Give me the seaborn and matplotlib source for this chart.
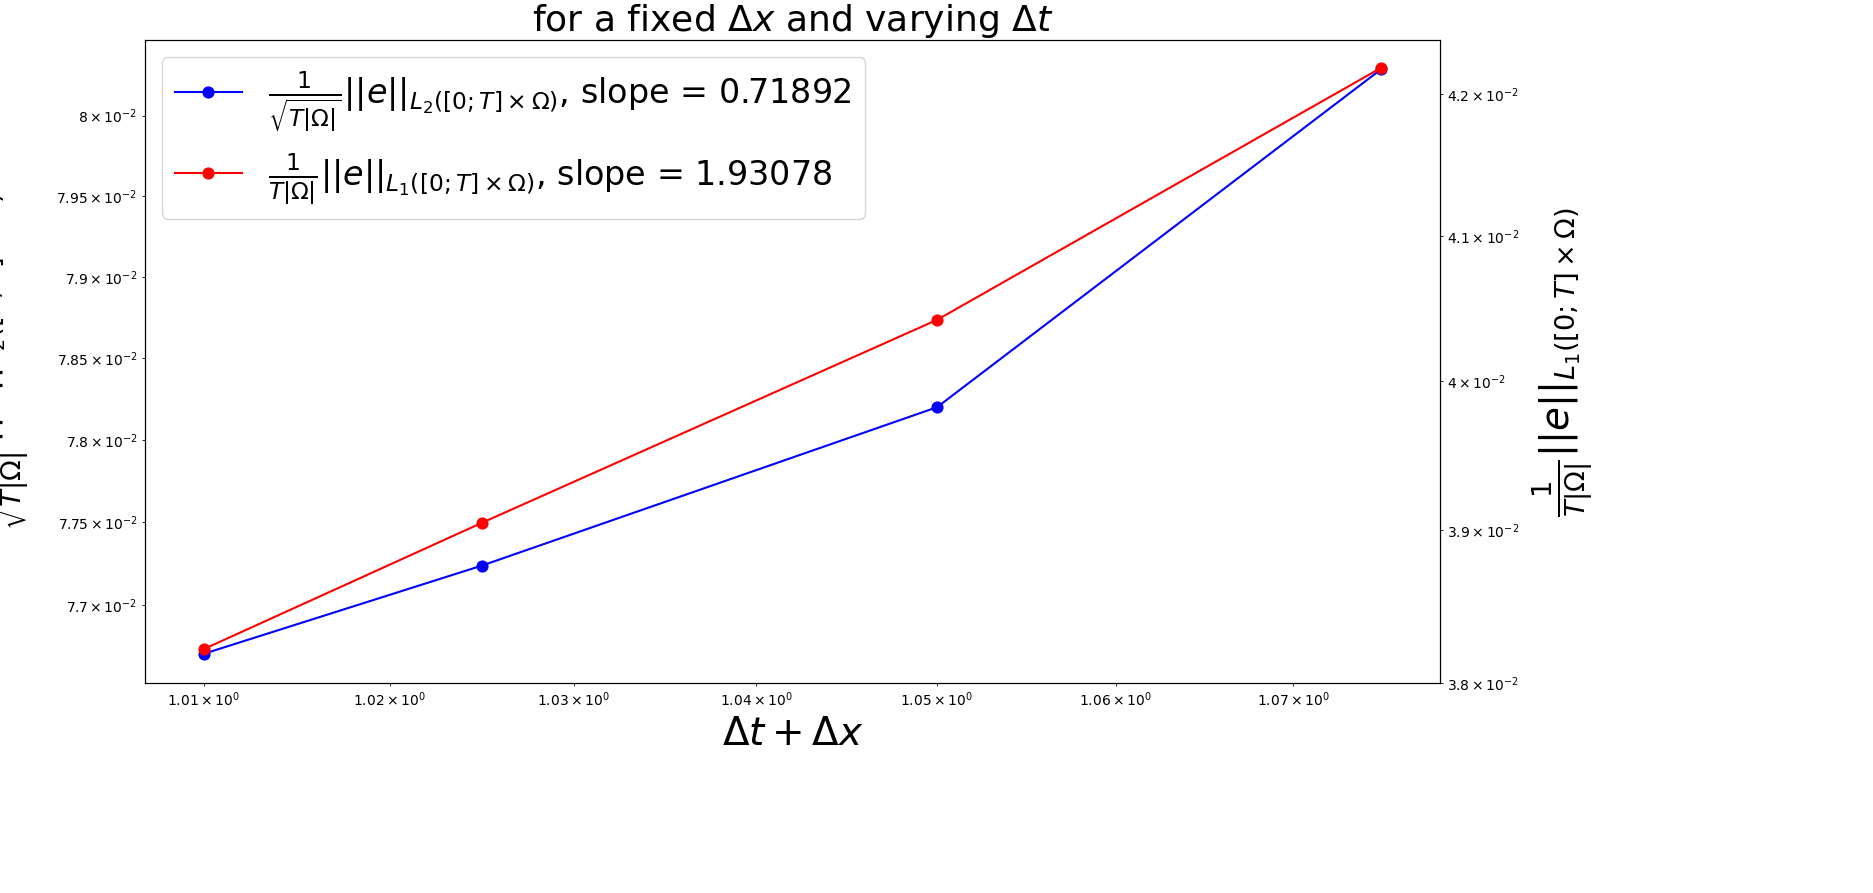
import matplotlib
matplotlib.use('Agg')
import matplotlib.pyplot as plt
import seaborn as sns
import pandas as pd

# step sizes and errors
h = [1.01, 1.025, 1.05, 1.075]
err_l2 = [0.07671, 0.07724, 0.07820, 0.08029]
err_l1 = [0.03822, 0.03905, 0.04042, 0.04219]
slope_l2 = 0.71892
slope_l1 = 1.93078
l1_ticks = [0.038, 0.039, 0.040, 0.041, 0.042]
l1_tick_labels = [r'$3.8\times10^{-2}$', r'$3.9\times10^{-2}$', r'$4\times10^{-2}$',
                  r'$4.1\times10^{-2}$', r'$4.2\times10^{-2}$']

df = pd.DataFrame({'h': h, 'l2': err_l2, 'l1': err_l1})

fig, ax = plt.subplots(figsize=(18.74, 8.93), dpi=100)
ax2 = ax.twinx()

lab2 = r'$\frac{1}{\sqrt{T|\Omega|}}||e||_{L_2([0;T]\times\Omega)}$, slope = ' + f'{slope_l2}'
lab1 = r'$\frac{1}{T|\Omega|}||e||_{L_1([0;T]\times\Omega)}$, slope = ' + f'{slope_l1}'

sns.lineplot(data=df, x='h', y='l2', ax=ax, color='blue', marker='o', markersize=8,
             markeredgecolor='blue', label=lab2, legend=False)
sns.lineplot(data=df, x='h', y='l1', ax=ax2, color='red', marker='o', markersize=8,
             markeredgecolor='red', label=lab1, legend=False)

for a in (ax, ax2):
    a.set_xscale('log')
    a.set_yscale('log')

ax2.set_ylim(0.03803, 0.04239)
ax2.set_yticks([], minor=False)
ax2.set_yticks(l1_ticks, labels=l1_tick_labels, minor=True)

ax.set_xlabel(r'$\Delta t + \Delta x$', fontsize=28)
ax.set_ylabel(r'$\frac{1}{\sqrt{T|\Omega|}}||e||_{L_2([0;T]\times\Omega)}$', fontsize=28)
ax2.set_ylabel(r'$\frac{1}{T|\Omega|}||e||_{L_1([0;T]\times\Omega)}$', fontsize=28)
ax.yaxis.set_label_coords(-0.088, 0.5)
ax2.yaxis.set_label_coords(1.07, 0.5)
ax.set_title(r'for a fixed $\Delta x$ and varying $\Delta t$', fontsize=26)

lines = ax.get_lines() + ax2.get_lines()
ax.legend(lines, [l.get_label() for l in lines], loc='upper left', fontsize=24)

fig.subplots_adjust(left=145/1874, right=1440/1874, top=1 - 40/893, bottom=1 - 683/893)
fig.savefig('out.png', dpi=100)
